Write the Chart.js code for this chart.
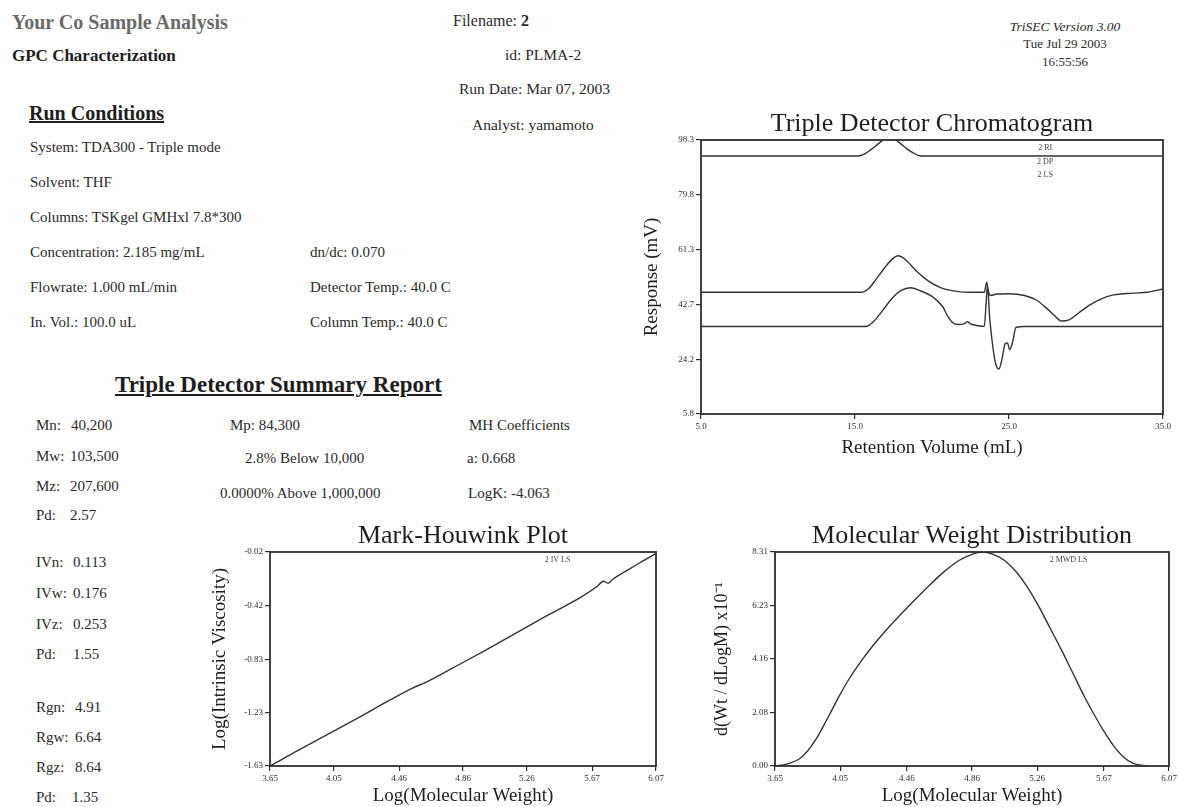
<!DOCTYPE html>
<html>
<head>
<meta charset="utf-8">
<script src="https://cdn.jsdelivr.net/npm/chart.js@4.4.1/dist/chart.umd.min.js"></script>
<style>
  html, body { margin: 0; padding: 0; background: #fff; }
  #page { position: relative; width: 1179px; height: 807px; overflow: hidden;
          font-family: 'Liberation Serif', 'Times New Roman', serif; color: #2a2a2a; }
  .t { position: absolute; white-space: pre; line-height: 1; }
  .s { font-size: 15px; }
  .b { font-weight: bold; }
  .u { text-decoration: underline; }
  canvas { position: absolute; }
</style>
</head>
<body>
<div id="page">
  <!-- header -->
  <div class="t b" style="left:12px;top:12px;font-size:20px;color:#6a6a6a">Your Co Sample Analysis</div>
  <div class="t b" style="left:12px;top:47px;font-size:17px;color:#1e1e1e">GPC Characterization</div>
  <div class="t" style="left:453px;top:13px;font-size:16px">Filename: <b>2</b></div>
  <div class="t" style="left:505px;top:47px;font-size:15.5px">id: PLMA-2</div>
  <div class="t" style="left:459px;top:81px;font-size:15.5px">Run Date: Mar 07, 2003</div>
  <div class="t" style="left:472px;top:117px;font-size:15.5px">Analyst: yamamoto</div>
  <div class="t" style="left:990px;top:20px;width:150px;text-align:center;font-size:13.5px;font-style:italic">TriSEC Version 3.00</div>
  <div class="t" style="left:990px;top:37px;width:150px;text-align:center;font-size:13px">Tue Jul 29 2003</div>
  <div class="t" style="left:990px;top:55px;width:150px;text-align:center;font-size:13px">16:55:56</div>

  <!-- run conditions -->
  <div class="t b u" style="left:29px;top:103px;font-size:20px;color:#1e1e1e">Run Conditions</div>
  <div class="t s" style="left:30px;top:140px">System: TDA300 - Triple mode</div>
  <div class="t s" style="left:30px;top:175px">Solvent: THF</div>
  <div class="t s" style="left:30px;top:210px">Columns: TSKgel GMHxl 7.8*300</div>
  <div class="t s" style="left:30px;top:245px">Concentration: 2.185 mg/mL</div>
  <div class="t s" style="left:30px;top:280px">Flowrate: 1.000 mL/min</div>
  <div class="t s" style="left:30px;top:315px">In. Vol.: 100.0 uL</div>
  <div class="t s" style="left:310px;top:245px">dn/dc: 0.070</div>
  <div class="t s" style="left:310px;top:280px">Detector Temp.: 40.0 C</div>
  <div class="t s" style="left:310px;top:315px">Column Temp.: 40.0 C</div>

  <!-- summary report -->
  <div class="t b u" style="left:115px;top:373px;font-size:23px;color:#1e1e1e">Triple Detector Summary Report</div>
  <div class="t s" style="left:36px;top:418px">Mn:</div><div class="t s" style="left:71px;top:418px">40,200</div>
  <div class="t s" style="left:36px;top:449px">Mw:</div><div class="t s" style="left:70px;top:449px">103,500</div>
  <div class="t s" style="left:36px;top:479px">Mz:</div><div class="t s" style="left:70px;top:479px">207,600</div>
  <div class="t s" style="left:36px;top:508px">Pd:</div><div class="t s" style="left:70px;top:508px">2.57</div>
  <div class="t s" style="left:36px;top:555px">IVn:</div><div class="t s" style="left:73px;top:555px">0.113</div>
  <div class="t s" style="left:36px;top:586px">IVw:</div><div class="t s" style="left:73px;top:586px">0.176</div>
  <div class="t s" style="left:36px;top:617px">IVz:</div><div class="t s" style="left:73px;top:617px">0.253</div>
  <div class="t s" style="left:36px;top:647px">Pd:</div><div class="t s" style="left:73px;top:647px">1.55</div>
  <div class="t s" style="left:36px;top:700px">Rgn:</div><div class="t s" style="left:75px;top:700px">4.91</div>
  <div class="t s" style="left:36px;top:730px">Rgw:</div><div class="t s" style="left:75px;top:730px">6.64</div>
  <div class="t s" style="left:36px;top:760px">Rgz:</div><div class="t s" style="left:75px;top:760px">8.64</div>
  <div class="t s" style="left:36px;top:790px">Pd:</div><div class="t s" style="left:72px;top:790px">1.35</div>
  <div class="t s" style="left:230px;top:418px">Mp: 84,300</div>
  <div class="t s" style="left:245px;top:451px">2.8% Below 10,000</div>
  <div class="t s" style="left:220px;top:486px">0.0000% Above 1,000,000</div>
  <div class="t s" style="left:469px;top:418px">MH Coefficients</div>
  <div class="t s" style="left:467px;top:451px">a: 0.668</div>
  <div class="t s" style="left:468px;top:486px">LogK: -4.063</div>

  <canvas id="chrom" width="559" height="360" style="left:620px;top:100px"></canvas>
  <canvas id="mh" width="475" height="297" style="left:195px;top:510px"></canvas>
  <canvas id="mwd" width="489" height="297" style="left:690px;top:510px"></canvas>
</div>

<script>
// ---- Triple Detector Chromatogram (retention volume mL / response mV)
const riX = [5.0, 15.2, 15.6, 16.0, 16.5, 16.9, 17.2, 17.6, 18.0, 18.4, 18.8, 19.2, 20.0, 35.0];
const riY = [92.9, 92.9, 93.5, 94.9, 97.0, 98.6, 99.2, 98.5, 96.9, 95.2, 93.9, 93.0, 92.9, 92.9];

const dpX = [5.0, 15.4, 15.9, 16.4, 16.9, 17.4, 17.8, 18.3, 19.0, 19.8, 20.6, 21.5, 22.5, 23.4, 23.55, 23.65,
             23.8, 24.2, 25.0, 26.0, 26.8, 27.5, 28.0, 28.4, 28.9, 29.5, 30.2, 31.0, 31.8, 33.0, 34.0, 35.0];
const dpY = [46.9, 46.9, 48.2, 51.5, 55.0, 58.0, 59.2, 57.8, 54.0, 50.6, 48.4, 47.3, 46.9, 46.9, 50.3, 47.5,
             45.8, 46.3, 46.4, 45.8, 44.2, 41.2, 38.8, 37.2, 37.6, 39.8, 42.5, 44.7, 46.0, 46.6, 46.9, 48.0];

const lsX = [5.0, 15.7, 16.2, 16.8, 17.4, 18.0, 18.6, 19.2, 20.0, 20.7, 21.0, 21.35, 21.7, 22.1, 22.3, 22.5,
             23.0, 23.4, 23.5, 23.6, 23.75, 23.95, 24.15, 24.35, 24.55, 24.75, 24.9, 25.05, 25.25, 25.45, 26.0, 35.0];
const lsY = [35.35, 35.35, 37.0, 40.8, 44.8, 47.5, 48.4, 47.5, 45.5, 42.0, 39.0, 36.6, 36.0, 36.3, 37.0, 36.2,
             35.6, 35.4, 42.0, 49.0, 38.0, 28.5, 22.5, 21.0, 24.5, 29.5, 29.8, 27.5, 30.5, 35.0, 35.35, 35.35];

const chromXTicks = [5.0, 15.0, 25.0, 35.0];
const chromYTicks = [5.8, 24.2, 42.7, 61.3, 79.8, 98.3];

// ---- Mark-Houwink Plot (log M / log IV)
const mhX = [3.65, 3.80, 4.00, 4.20, 4.40, 4.55, 4.62, 4.80, 5.00, 5.20, 5.40, 5.60, 5.70, 5.74, 5.77, 5.80, 5.90, 6.00, 6.07];
const mhY = [-1.63, -1.53, -1.40, -1.27, -1.135, -1.04, -1.005, -0.89, -0.76, -0.625, -0.49, -0.36, -0.28, -0.24, -0.255, -0.225, -0.15, -0.08, -0.03];

// ---- Molecular Weight Distribution (log M / dWt/dLogM x10^-1)
const mwdX = [3.65, 3.72, 3.80, 3.85, 3.90, 3.95, 4.00, 4.05, 4.10, 4.18, 4.26, 4.35, 4.47, 4.58, 4.68, 4.78, 4.86,
              4.92, 4.99, 5.06, 5.13, 5.20, 5.27, 5.34, 5.41, 5.48, 5.55, 5.61, 5.67, 5.73, 5.79, 5.85, 5.91, 5.95];
const mwdY = [0.00, 0.07, 0.28, 0.58, 1.02, 1.58, 2.18, 2.78, 3.33, 4.08, 4.74, 5.40, 6.20, 6.90, 7.50, 7.98, 8.22,
              8.31, 8.22, 7.98, 7.55, 6.95, 6.20, 5.35, 4.50, 3.60, 2.70, 2.00, 1.35, 0.78, 0.35, 0.10, 0.02, 0.00];

const logMTicks = [3.65, 4.05, 4.46, 4.86, 5.26, 5.67, 6.07];
const mhYTicks = [-1.63, -1.23, -0.83, -0.42, -0.02];
const mwdYTicks = [0.00, 2.08, 4.16, 6.23, 8.31];

const FONT = "'Liberation Serif', 'Times New Roman', serif";
const INK = '#2e2e2e';

Chart.defaults.font.family = FONT;
Chart.defaults.color = INK;

const pairs = (xs, ys) => xs.map((x, i) => ({ x, y: ys[i] }));

// box round the plot area
const frame = {
  id: 'frame',
  afterDatasetsDraw(chart) {
    const a = chart.chartArea, ctx = chart.ctx;
    ctx.save();
    ctx.strokeStyle = INK;
    ctx.lineWidth = 1.8;
    ctx.strokeRect(a.left, a.top, a.right - a.left, a.bottom - a.top);
    ctx.restore();
  }
};

// small series names in the top right of the plot
const tags = {
  id: 'tags',
  afterDatasetsDraw(chart) {
    const a = chart.chartArea, ctx = chart.ctx;
    ctx.save();
    ctx.font = '8px ' + FONT;
    ctx.fillStyle = '#444';
    ctx.textAlign = 'center';
    ctx.textBaseline = 'middle';
    chart.data.datasets.forEach((d, i) => {
      ctx.fillText(d.label, a.left + (a.right - a.left) * 0.745, a.top + 8 + i * 13.5);
    });
    ctx.restore();
  }
};

function axis(ticks, digits, title, titleSize, titlePad, fit, horizontal) {
  return {
    type: 'linear',
    min: ticks[0],
    max: ticks[ticks.length - 1],
    afterBuildTicks: s => { s.ticks = ticks.map(v => ({ value: v })); },
    afterFit: s => { if (horizontal) s.height = fit; else s.width = fit; },
    border: { display: false },
    grid: { display: true, drawOnChartArea: false, drawTicks: true, tickLength: 5, color: INK, lineWidth: 1.2 },
    ticks: {
      color: INK, font: { size: 9 }, padding: 2, maxRotation: 0, autoSkip: false,
      callback: v => Number(v).toFixed(digits)
    },
    title: {
      display: true, text: title, color: '#1e1e1e',
      font: { size: titleSize, lineHeight: 1.2 },
      padding: horizontal ? { top: 0, bottom: titlePad } : { top: titlePad, bottom: 0 }
    }
  };
}

function lineSet(label, xs, ys) {
  return {
    label, data: pairs(xs, ys),
    borderColor: '#333', borderWidth: 1.4, pointRadius: 0,
    cubicInterpolationMode: 'monotone', fill: false
  };
}

function makeChart(id, title, titleTop, datasets, x, y, pad) {
  return new Chart(document.getElementById(id), {
    type: 'line',
    data: { datasets },
    options: {
      responsive: false, animation: false, devicePixelRatio: 1,
      layout: { padding: pad },
      plugins: {
        legend: { display: false },
        tooltip: { enabled: false },
        title: {
          display: true, text: title, fullSize: false, color: '#1e1e1e',
          font: { size: 26, weight: 'normal', lineHeight: 1.2 },
          padding: { top: titleTop, bottom: 0 }
        }
      },
      scales: { x, y }
    },
    plugins: [frame, tags]
  });
}

makeChart('chrom', 'Triple Detector Chromatogram', 8.8,
  [lineSet('2 RI', riX, riY), lineSet('2 DP', dpX, dpY), lineSet('2 LS', lsX, lsY)],
  axis(chromXTicks, 1, 'Retention Volume (mL)', 19, 0.6, 46, true),
  axis(chromYTicks, 1, 'Response (mV)', 19, 20.6, 81, false),
  { left: 0, right: 16, top: 0, bottom: 0 });

makeChart('mh', 'Mark-Houwink Plot', 10.8,
  [lineSet('2 IV LS', mhX, mhY)],
  axis(logMTicks, 2, 'Log(Molecular Weight)', 19, 0, 41, true),
  axis(mhYTicks, 2, 'Log(Intrinsic Viscosity)', 19, 13.6, 75, false),
  { left: 0, right: 14, top: 0, bottom: 0 });

makeChart('mwd', 'Molecular Weight Distribution', 10.8,
  [lineSet('2 MWD LS', mwdX, mwdY)],
  axis(logMTicks, 2, 'Log(Molecular Weight)', 19, 0, 41, true),
  axis(mwdYTicks, 2, 'd(Wt / dLogM) x10\u207B\u00B9', 18, 21.2, 85, false),
  { left: 0, right: 10, top: 0, bottom: 0 });
</script>
</body>
</html>
